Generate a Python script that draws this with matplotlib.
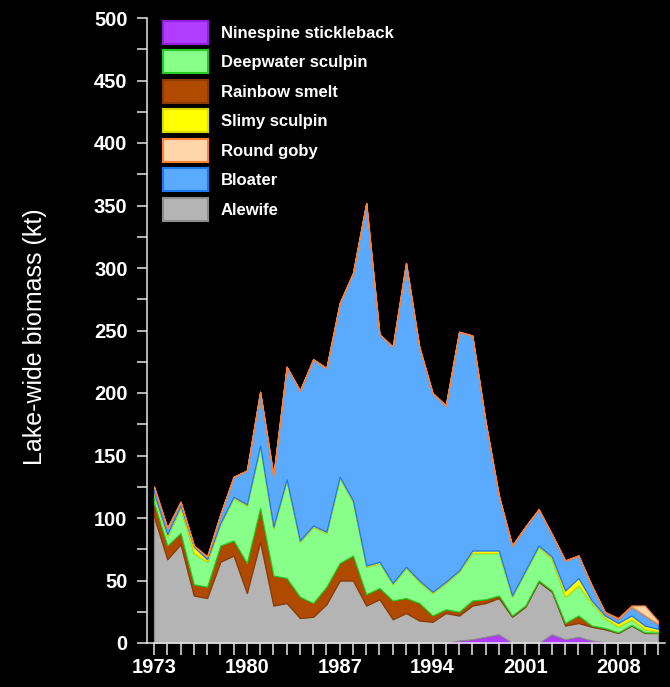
import numpy as np
import matplotlib
matplotlib.use("Agg")
import matplotlib.pyplot as plt
from matplotlib.patches import Patch

plt.rcParams['font.family'] = ['Liberation Sans', 'DejaVu Sans']

years = np.arange(1973, 2012)

ninespine = [0] * 22 + [0, 2, 3, 5, 7, 0, 0, 0, 7, 3, 5, 2, 0.5, 0, 0, 0, 0]
alewife = [101, 67, 79, 38, 36, 65, 70, 40, 81, 30, 32, 20, 21, 31, 50, 50, 30, 35, 19, 24,
           18, 17, 24, 20, 27, 27, 29, 21, 29, 49, 34, 11, 11, 11, 10.5, 8, 14, 8, 8]
smelt = [11, 11, 9, 9, 9, 13, 12, 24, 27, 24, 20, 17, 11, 14, 14, 20, 9, 9, 15, 12,
         14, 5, 3, 3, 4, 3, 2, 1, 1, 1, 1, 2, 6, 1, 1, 0.5, 0.5, 0.5, 0.3]
deepwater = [6, 7, 20, 25, 20, 17, 34, 46, 49, 38, 78, 44, 61, 43, 68, 43, 22, 20, 13, 24,
             17, 18, 21, 32, 38, 37, 34, 15, 27, 27, 25, 21, 24, 18, 8, 4.5, 4.5, 2.5, 1]
slimy = [2, 2, 2, 5, 2] + [1] * 19 + [2, 2, 2, 1, 1, 1, 2, 5, 6, 2, 2, 3, 3, 3, 2]
bloater = [5, 5, 3, 1, 2, 7, 16, 27, 43, 41, 90, 120, 133, 131, 139, 182, 290, 182, 189, 243,
           187, 159, 141, 191, 172, 103, 44, 40, 35, 29, 18, 24, 18, 12, 2.5, 3, 7, 8, 4]
goby = [0] * 34 + [0.5, 1, 1, 8, 2.5]

# bottom-up stacking order, legend order differs
stack = [
    ("Ninespine stickleback", ninespine, "#b03cff", "#9020e0"),
    ("Alewife", alewife, "#b4b4b4", "#8c8c8c"),
    ("Rainbow smelt", smelt, "#b04a00", "#8c3a00"),
    ("Deepwater sculpin", deepwater, "#88ff88", "#22cc22"),
    ("Slimy sculpin", slimy, "#ffff00", "#d8d800"),
    ("Bloater", bloater, "#5aaaff", "#1e78f0"),
    ("Round goby", goby, "#ffd5aa", "#ff8030"),
]
legend_order = ["Ninespine stickleback", "Deepwater sculpin", "Rainbow smelt",
                "Slimy sculpin", "Round goby", "Bloater", "Alewife"]

fig = plt.figure(figsize=(6.7, 6.87), dpi=100, facecolor="black")
ax = fig.add_axes([147 / 670, 44 / 687, 518 / 670, 625 / 687])
ax.set_facecolor("black")

base = np.zeros(len(years))
colors = {}
for name, vals, fc, ec in stack:
    top = base + np.array(vals, dtype=float)
    ax.fill_between(years, base, top, facecolor=fc, edgecolor=ec, linewidth=0.9)
    colors[name] = (fc, ec)
    base = top

ax.set_xlim(1972.47, 2011.53)
ax.set_ylim(0, 500)

for s in ["top", "right"]:
    ax.spines[s].set_visible(False)
for s in ["left", "bottom"]:
    ax.spines[s].set_color("#e6e6e6")
    ax.spines[s].set_linewidth(1.1)

ax.set_xticks(years)
ax.set_xticklabels([str(y) if (y - 1973) % 7 == 0 else "" for y in years])
yt = np.arange(0, 501, 25)
ax.set_yticks(yt)
ax.set_yticklabels([str(v) if v % 50 == 0 else "" for v in yt])
ax.tick_params(axis="x", colors="#e6e6e6", length=8.5, width=1.1, pad=2,
               labelsize=14.5, labelcolor="white")
ax.tick_params(axis="y", colors="#e6e6e6", length=7, width=1.1, pad=7,
               labelsize=14.5, labelcolor="white")
for lab in ax.get_xticklabels() + ax.get_yticklabels():
    lab.set_fontweight("bold")

ax.set_ylabel("Lake-wide biomass (kt)", color="white", fontsize=18)
ax.yaxis.set_label_coords((47 - 147) / 518, (643 - 337) / 625)

handles = [Patch(facecolor=colors[n][0], edgecolor=colors[n][1], linewidth=1.5)
           for n in legend_order]
leg = ax.legend(handles, legend_order, loc="upper left",
                bbox_to_anchor=(163 / 670, 1 - 21 / 687), bbox_transform=fig.transFigure,
                frameon=False, borderpad=0, borderaxespad=0,
                fontsize=12, handlelength=2.7, handleheight=1.73,
                labelspacing=0.4, handletextpad=0.78)
for t in leg.get_texts():
    t.set_color("white")
    t.set_fontweight("bold")

fig.savefig("out.png", dpi=100, facecolor="black")
